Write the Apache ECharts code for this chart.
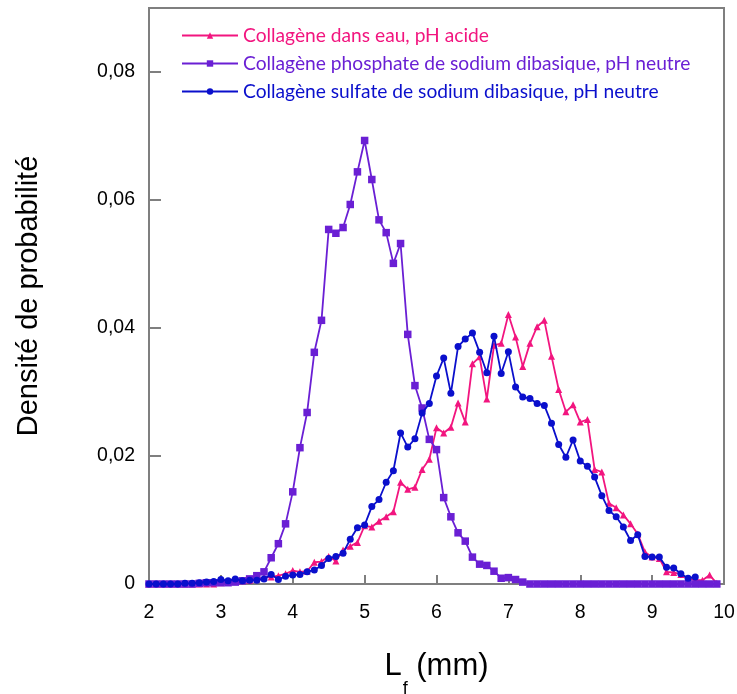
<!DOCTYPE html>
<html>
<head>
<meta charset="utf-8">
<script src="https://cdn.jsdelivr.net/npm/echarts@6/dist/echarts.min.js"></script>
<style>
html,body{margin:0;padding:0;background:#fff;}
#chart{width:737px;height:694px;}
</style>
</head>
<body>
<div id="chart"></div>
<script>
var xValues = [2.0,2.1,2.2,2.3,2.4,2.5,2.6,2.7,2.8,2.9,
  3.0,3.1,3.2,3.3,3.4,3.5,3.6,3.7,3.8,3.9,
  4.0,4.1,4.2,4.3,4.4,4.5,4.6,4.7,4.8,4.9,
  5.0,5.1,5.2,5.3,5.4,5.5,5.6,5.7,5.8,5.9,
  6.0,6.1,6.2,6.3,6.4,6.5,6.6,6.7,6.8,6.9,
  7.0,7.1,7.2,7.3,7.4,7.5,7.6,7.7,7.8,7.9,
  8.0,8.1,8.2,8.3,8.4,8.5,8.6,8.7,8.8,8.9,
  9.0,9.1,9.2,9.3,9.4,9.5,9.6,9.7,9.8,9.9,10.0];

var seriesNames = [
  "Collagène dans eau, pH acide",
  "Collagène phosphate de sodium dibasique, pH neutre",
  "Collagène sulfate de sodium dibasique, pH neutre"
];

var acidValues = [0,0,0,0,0,0,0,0,0,0,
  0.0002,0.0003,0.0004,0.0005,0.0006,0.0008,0.0010,0.0011,0.0013,0.0016,
  0.0021,0.0019,0.0020,0.0034,0.0035,0.0043,0.0036,0.0053,0.0059,0.0065,
  0.0091,0.0089,0.0098,0.0105,0.0113,0.0159,0.0148,0.0151,0.0179,0.0195,
  0.0244,0.0236,0.0245,0.0283,0.0253,0.0344,0.0355,0.0289,0.0373,0.0376,
  0.0421,0.0386,0.0340,0.0376,0.0402,0.0412,0.0356,0.0304,0.0269,0.0280,
  0.0253,0.0257,0.0179,0.0175,0.0126,0.0119,0.0108,0.0094,0.0078,0.0050,
  0.0042,0.0040,0.0019,0.0018,0.0015,0.0008,0.0006,0.0006,0.0014,0.0001,null];

var phosphateValues = [0,0,0,0,0,0,0,0.0001,0.0002,0.0002,
  0.0002,0.0002,0.0003,0.0005,0.0008,0.0013,0.0019,0.0041,0.0063,0.0094,
  0.0144,0.0213,0.0268,0.0362,0.0412,0.0554,0.0548,0.0557,0.0593,0.0644,
  0.0693,0.0632,0.0569,0.0549,0.0501,0.0532,0.0390,0.0310,0.0275,0.0226,
  0.0210,0.0135,0.0105,0.0080,0.0067,0.0042,0.0031,0.0029,0.0020,0.0009,
  0.0010,0.0007,0.0003,0,0,0,0,0,0,0,
  0,0,0,0,0,0,0,0,0,0,
  0,0,0,0,0,0,0,0,0,0,null];

var sulfateValues = [0,0,0,0,0,0.0001,0.0001,0.0002,0.0003,0.0004,
  0.0007,0.0005,0.0008,0.0005,0.0006,0.0006,0.0008,0.0015,0.0007,0.0012,
  0.0014,0.0015,0.0019,0.0022,0.0029,0.0040,0.0043,0.0048,0.0070,0.0088,
  0.0092,0.0121,0.0132,0.0159,0.0177,0.0236,0.0214,0.0227,0.0267,0.0282,
  0.0325,0.0353,0.0298,0.0371,0.0383,0.0392,0.0362,0.0330,0.0387,0.0329,
  0.0363,0.0308,0.0292,0.0290,0.0282,0.0279,0.0251,0.0218,0.0198,0.0225,
  0.0192,0.0184,0.0167,0.0138,0.0115,0.0105,0.0089,0.0068,0.0077,0.0043,
  0.0042,0.0042,0.0026,0.0025,0.0016,0.0009,0.0011,null,null,null,null];

var xTicks = [2,3,4,5,6,7,8,9,10];
var yTicks = [0,0.02,0.04,0.06,0.08];

var colors = ['#F2157F', '#6A1FD4', '#0A0FCC'];

function pairs(vals){
  var out = [];
  for (var i = 0; i < xValues.length; i++) {
    if (vals[i] !== null) out.push([xValues[i], vals[i]]);
  }
  return out;
}

var chart = echarts.init(document.getElementById('chart'), null, {renderer:'canvas'});
var axisGray = '#7f7f7f';
var option = {
  animation: false,
  backgroundColor: '#ffffff',
  grid: {left:149, right:13, top:8, bottom:110, show:true, borderColor:axisGray, borderWidth:2,
         backgroundColor:'transparent', containLabel:false, outerBoundsMode:'none'},
  legend: {
    orient: 'vertical', left: 176, top: 21,
    itemWidth: 56, itemHeight: 8, itemGap: 9,
    textStyle: {fontFamily: 'Lato', fontSize: 19.2},
    data: seriesNames.map(function(n, i){ return {name:n, textStyle:{color:colors[i]}}; })
  },
  xAxis: {
    type: 'value', min: 2, max: 10, interval: 1,
    name: '{a|L}{s|f}{a| (mm)}', nameLocation: 'middle', nameGap: 67,
    nameTextStyle: {
      rich: {
        a: {fontFamily:'Liberation Sans', fontSize: 31, color:'#000', verticalAlign:'top'},
        s: {fontFamily:'Liberation Sans', fontSize: 18, color:'#000', verticalAlign:'top', padding:[29,0,0,1]}
      }
    },
    axisLine: {show:true, onZero:false, lineStyle:{color:axisGray, width:2}},
    axisTick: {show:true, inside:true, length:9, lineStyle:{color:axisGray, width:2}},
    axisLabel: {color:'#000', fontFamily:'Liberation Sans', fontSize:19.5, margin:19,
      formatter: function(v){ return xTicks.indexOf(v) >= 0 ? String(v) : ''; }},
    splitLine: {show:false}
  },
  yAxis: {
    type: 'value', min: 0, max: 0.09, interval: 0.02,
    name: 'Densité de probabilité', nameLocation: 'middle', nameGap: 106, nameRotate: 90,
    nameTextStyle: {fontFamily:'Liberation Sans', fontSize: 29, color:'#000'},
    axisLine: {show:true, lineStyle:{color:axisGray, width:2}},
    axisTick: {show:true, inside:true, length:12, lineStyle:{color:axisGray, width:2}},
    axisLabel: {color:'#000', fontFamily:'Liberation Sans', fontSize:19.5, margin:14, showMaxLabel:false,
      formatter: function(v){
        for (var i = 0; i < yTicks.length; i++) {
          if (Math.abs(v - yTicks[i]) < 1e-9) return v === 0 ? '0' : yTicks[i].toFixed(2).replace('.', ',');
        }
        return '';
      }},
    splitLine: {show:false}
  },
  series: [
    {name: seriesNames[0], type:'line', data: pairs(acidValues), color: colors[0],
     symbol:'triangle', symbolSize:7, lineStyle:{width:1.8, color:colors[0]}, itemStyle:{color:colors[0]}, z:2},
    {name: seriesNames[1], type:'line', data: pairs(phosphateValues), color: colors[1],
     symbol:'rect', symbolSize:7.5, lineStyle:{width:1.8, color:colors[1]}, itemStyle:{color:colors[1]}, z:3},
    {name: seriesNames[2], type:'line', data: pairs(sulfateValues), color: colors[2],
     symbol:'circle', symbolSize:7, lineStyle:{width:1.8, color:colors[2]}, itemStyle:{color:colors[2]}, z:4}
  ]
};
chart.setOption(option);
</script>
</body>
</html>
